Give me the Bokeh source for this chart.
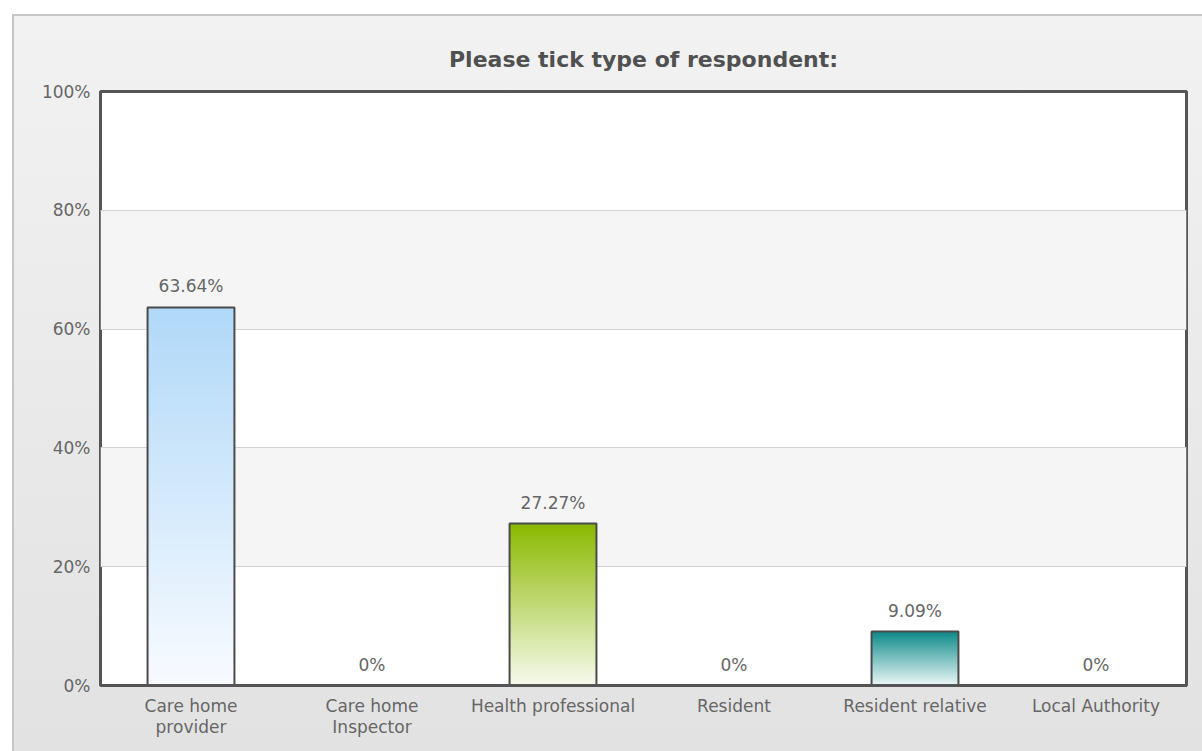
from bokeh.plotting import figure
from bokeh.models import FactorRange, PrintfTickFormatter, ColumnDataSource, FixedTicker
from bokeh.core.properties import value
from bokeh.embed import file_html
from bokeh.resources import INLINE

categories = ["Care home\nprovider", "Care home\nInspector", "Health professional",
              "Resident", "Resident relative", "Local Authority"]
percentages = [63.64, 0, 27.27, 0, 9.09, 0]
y_ticks = [0, 20, 40, 60, 80, 100]
top_colors = ["#b0d8f8", "#d0d0d0", "#8ab900", "#d0d0d0", "#108b8b", "#d0d0d0"]
bottom_colors = ["#f8fbff", "#ffffff", "#f8faee", "#ffffff", "#eef8f8", "#ffffff"]

FONT = "DejaVu Sans"
LABEL_COLOR = "#666666"

p = figure(x_range=FactorRange(*categories, range_padding=0), y_range=(0, 100),
           width=1190, height=737, output_backend="svg", toolbar_location=None,
           min_border_left=88, min_border_right=16, min_border_top=77, min_border_bottom=66,
           margin=(14, 0, 0, 12))
p.styles = {"background": "linear-gradient(to bottom, #f2f2f2, #e2e2e2)",
            "box-shadow": "inset 2px 2px 0 #c6c6c6"}
p.border_fill_alpha = 0
p.background_fill_color = "white"
p.outline_line_color = "#555555"
p.outline_line_width = 3

p.title.text = "Please tick type of respondent:"
p.title.align = "center"
p.title.text_font = FONT
p.title.text_font_size = "22px"
p.title.text_color = "#505050"
p.title.text_font_style = "bold"
p.title.standoff = 40

# gridlines & bands
p.xgrid.grid_line_color = None
p.ygrid.grid_line_color = "#d2d2d2"
p.ygrid.band_fill_color = "#f5f5f5"
p.ygrid.band_fill_alpha = 1
p.yaxis.ticker = FixedTicker(ticks=y_ticks)
p.yaxis.formatter = PrintfTickFormatter(format="%d%%")

for ax in (p.xaxis, p.yaxis):
    ax.major_tick_line_color = None
    ax.minor_tick_line_color = None
    ax.major_label_text_font = FONT
    ax.major_label_text_font_size = "17px"
    ax.major_label_text_color = LABEL_COLOR
p.yaxis.axis_line_color = None
p.yaxis.major_label_standoff = 4
p.xaxis.axis_line_color = "#555555"
p.xaxis.axis_line_width = 3
p.xaxis.major_label_standoff = 4
p.xaxis.major_label_text_line_height = 1.06


def hex2rgb(h):
    h = h.lstrip("#")
    return tuple(int(h[i:i + 2], 16) for i in (0, 2, 4))


N = 80
xs, bots, tops, cols = [], [], [], []
for cat, v, tc, bc in zip(categories, percentages, top_colors, bottom_colors):
    if v <= 0:
        continue
    t = hex2rgb(tc)
    b = hex2rgb(bc)
    for k in range(N):
        f = (k + 0.5) / N
        c = tuple(round(b[i] + (t[i] - b[i]) * f) for i in range(3))
        xs.append(cat)
        bots.append(v * k / N)
        tops.append(v * (k + 1) / N)
        cols.append("#%02x%02x%02x" % c)

p.vbar(x=xs, bottom=bots, top=tops, width=0.48, fill_color=cols,
       line_color=cols, line_width=1)

src = ColumnDataSource(dict(
    cat=categories, val=percentages,
    lbl=[("%g%%" % v) for v in percentages]))
nz = [c for c, v in zip(categories, percentages) if v > 0]
nzv = [v for v in percentages if v > 0]
p.vbar(x=nz, top=nzv, width=0.48, fill_alpha=0, line_color="#4a4a4a", line_width=2)

p.text(x="cat", y="val", text="lbl", source=src, text_align="center",
       text_baseline="alphabetic", y_offset=-21, text_font=value(FONT),
       text_font_size="17px", text_color=LABEL_COLOR)

open("out.html", "w").write(file_html(p, INLINE))
